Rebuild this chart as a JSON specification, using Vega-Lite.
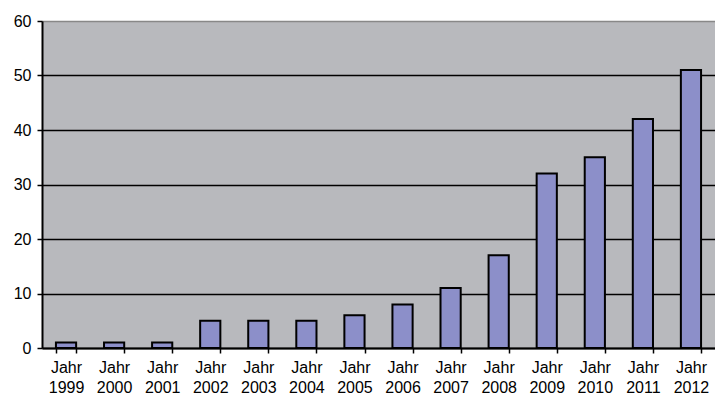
{
  "$schema": "https://vega.github.io/schema/vega-lite/v6.json",
  "width": 673,
  "height": 327,
  "autosize": {"type": "none"},
  "padding": {"left": 42, "top": 21, "right": 0, "bottom": 48},
  "background": "white",
  "view": {"fill": "#B8B9BD", "stroke": null},
  "data": {"values": [
    {"jahr": "1999", "wert": 1},
    {"jahr": "2000", "wert": 1},
    {"jahr": "2001", "wert": 1},
    {"jahr": "2002", "wert": 5},
    {"jahr": "2003", "wert": 5},
    {"jahr": "2004", "wert": 5},
    {"jahr": "2005", "wert": 6},
    {"jahr": "2006", "wert": 8},
    {"jahr": "2007", "wert": 11},
    {"jahr": "2008", "wert": 17},
    {"jahr": "2009", "wert": 32},
    {"jahr": "2010", "wert": 35},
    {"jahr": "2011", "wert": 42},
    {"jahr": "2012", "wert": 51}
  ]},
  "mark": {"type": "bar", "fill": "#8C8FC9", "stroke": "black", "strokeWidth": 2},
  "encoding": {
    "x": {
      "field": "jahr", "type": "ordinal",
      "scale": {"paddingInner": 0.58, "paddingOuter": 0.29},
      "axis": {
        "title": null,
        "labelAngle": 0,
        "labelExpr": "datum.value == null || datum.value == '' ? '' : ['Jahr', datum.value]",
        "labelFont": "Liberation Sans",
        "labelFontSize": 16,
        "labelColor": "black",
        "labelLineHeight": 20,
        "labelPadding": 6,
        "labelOverlap": false,
        "tickBand": "extent",
        "tickColor": "black",
        "tickWidth": 1.5,
        "tickSize": 5,
        "domainColor": "black",
        "domainWidth": 2,
        "grid": false
      }
    },
    "y": {
      "field": "wert", "type": "quantitative",
      "scale": {"domain": [0, 60]},
      "axis": {
        "title": null,
        "values": [0, 10, 20, 30, 40, 50, 60],
        "labelFont": "Liberation Sans",
        "labelFontSize": 16,
        "labelColor": "black",
        "labelPadding": 6,
        "tickColor": "black",
        "tickWidth": 1.5,
        "tickSize": 5,
        "domainColor": "black",
        "domainWidth": 2,
        "grid": true,
        "gridColor": {"condition": {"test": "datum.value == 60", "value": "#888888"}, "value": "black"},
        "gridWidth": 1.5
      }
    }
  }
}
